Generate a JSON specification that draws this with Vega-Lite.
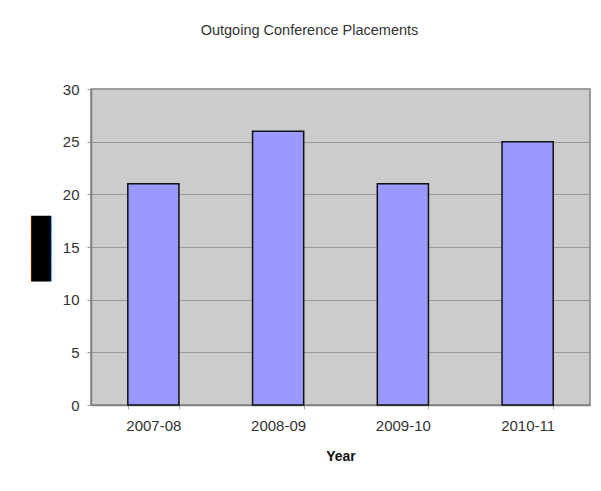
{
  "$schema": "https://vega.github.io/schema/vega-lite/v6.json",
  "width": 499,
  "height": 316,
  "autosize": {"type": "none"},
  "padding": {"left": 91, "top": 89, "right": 11, "bottom": 86},
  "background": "white",
  "title": {
    "text": "Outgoing Conference Placements",
    "anchor": "middle",
    "frame": "group",
    "offset": 44,
    "dx": -31,
    "font": "Liberation Sans",
    "fontSize": 14.5,
    "fontWeight": "normal",
    "color": "#333333"
  },
  "data": {
    "values": [
      {"Year": "2007-08", "Placements": 21},
      {"Year": "2008-09", "Placements": 26},
      {"Year": "2009-10", "Placements": 21},
      {"Year": "2010-11", "Placements": 25}
    ]
  },
  "mark": {"type": "bar", "fill": "#9999FF", "stroke": "#111111", "strokeWidth": 1.5},
  "encoding": {
    "x": {
      "field": "Year",
      "type": "nominal",
      "sort": null,
      "scale": {"paddingInner": 0.59, "paddingOuter": 0.295},
      "axis": {
        "title": "Year",
        "titleFont": "Liberation Sans",
        "titleFontSize": 14,
        "titleFontWeight": "bold",
        "titleColor": "#111111",
        "titlePadding": 16,
        "labelAngle": 0,
        "labelFont": "Liberation Sans",
        "labelFontSize": 15,
        "labelColor": "#333333",
        "labelPadding": 9,
        "tickBand": "extent",
        "tickSize": 4,
        "tickColor": "#aaaaaa",
        "domainColor": "#808080",
        "domainWidth": 1.5
      }
    },
    "y": {
      "field": "Placements",
      "type": "quantitative",
      "scale": {"domain": [0, 30], "nice": false},
      "axis": {
        "values": [0, 5, 10, 15, 20, 25, 30],
        "title": "█████",
        "titleFont": "DejaVu Sans",
        "titleFontSize": 17,
        "titleColor": "#000000",
        "titleAngle": 270,
        "titleAlign": "center",
        "titleBaseline": "middle",
        "titleX": -50,
        "titleY": 159,
        "labelFont": "Liberation Sans",
        "labelFontSize": 15,
        "labelColor": "#333333",
        "labelPadding": 8,
        "tickSize": 4,
        "tickColor": "#999999",
        "domainColor": "#808080",
        "domainWidth": 1.5,
        "grid": true,
        "gridColor": "#999999",
        "gridWidth": 1
      }
    }
  },
  "config": {
    "view": {"fill": "#CCCCCC", "stroke": "#808080", "strokeWidth": 1.5}
  }
}
